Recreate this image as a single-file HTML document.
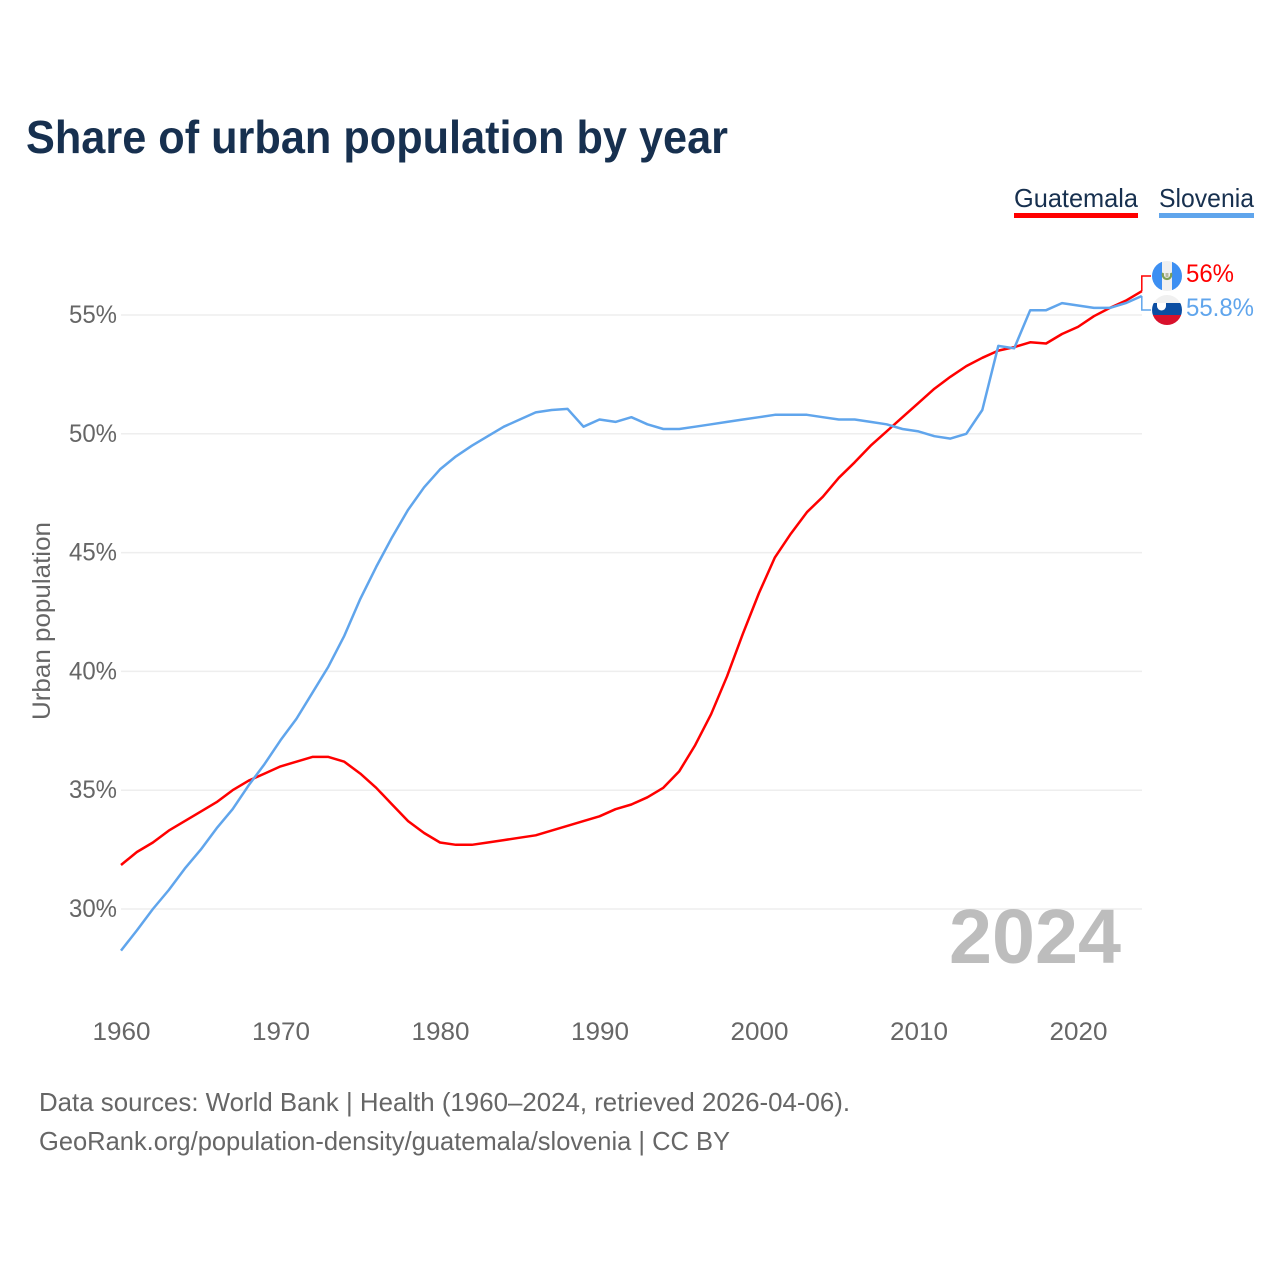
<!DOCTYPE html>
<html lang="en">
<head>
<meta charset="utf-8">
<title>Share of urban population by year</title>
<style>
html,body{margin:0;padding:0;background:#fff;width:1280px;height:1280px;overflow:hidden}
svg{display:block}
text{font-family:"Liberation Sans",sans-serif}
</style>
</head>
<body>
<svg id="chart" xmlns="http://www.w3.org/2000/svg" width="1280" height="1280" viewBox="0 0 1280 1280">
  <rect x="0" y="0" width="1280" height="1280" fill="#ffffff"/>
  <text x="26" y="153" font-size="46" font-weight="700" fill="#17304f" textLength="702" lengthAdjust="spacingAndGlyphs">Share of urban population by year</text>

  <g>
    <text x="1014" y="207" font-size="26" fill="#17304f" textLength="124" lengthAdjust="spacingAndGlyphs">Guatemala</text>
    <rect x="1014" y="213" width="124" height="5" fill="#ff0000"/>
  </g>
  <g>
    <text x="1159" y="207" font-size="26" fill="#17304f" textLength="95" lengthAdjust="spacingAndGlyphs">Slovenia</text>
    <rect x="1159" y="213" width="95" height="5" fill="#60a5ec"/>
  </g>

  <g id="grid"></g>
  <g id="yticks"></g>
  <g id="xticks"></g>
  <text transform="translate(50,621) rotate(-90)" text-anchor="middle" font-size="25" fill="#666666" textLength="198" lengthAdjust="spacingAndGlyphs">Urban population</text>

  <text x="949" y="963" font-size="77" font-weight="700" fill="#bdbdbd" textLength="172" lengthAdjust="spacingAndGlyphs">2024</text>

  <g id="series"></g>

  <defs>
    <clipPath id="clip-gt"><circle cx="1167" cy="276" r="15"/></clipPath>
    <clipPath id="clip-si"><circle cx="1167" cy="310" r="15"/></clipPath>
  </defs>
  <g clip-path="url(#clip-gt)">
    <rect x="1152" y="261" width="30" height="30" fill="#f0f0f0"/>
    <rect x="1152" y="261" width="10" height="30" fill="#3d8ff2"/>
    <rect x="1172" y="261" width="10" height="30" fill="#3d8ff2"/>
    <path d="M1163.2 273a4.2 4.2 0 1 0 7.6 0" fill="none" stroke="#7f9f55" stroke-width="2.2"/>
    <rect x="1165.5" y="273" width="3" height="4" fill="#b8b8a0"/>
  </g>
  <g clip-path="url(#clip-si)">
    <rect x="1152" y="295" width="30" height="8" fill="#f0f0f0"/>
    <rect x="1152" y="303" width="30" height="12" fill="#0b4ea2"/>
    <rect x="1152" y="315" width="30" height="10" fill="#d8112c"/>
    <path d="M1157 303h9v3a4.5 4.5 0 0 1-9 0z" fill="#ffffff"/>
  </g>
  <g id="endlabels"></g>

  <text x="39" y="1111" font-size="26" fill="#666666" textLength="811" lengthAdjust="spacingAndGlyphs">Data sources: World Bank | Health (1960–2024, retrieved 2026-04-06).</text>
  <text x="39" y="1150" font-size="26" fill="#666666" textLength="691" lengthAdjust="spacingAndGlyphs">GeoRank.org/population-density/guatemala/slovenia | CC BY</text>
</svg>
<script>
const startYear = 1960;
const guatemalaValues = [31.85,32.4,32.8,33.3,33.7,34.1,34.5,35.0,35.4,35.7,36.0,36.2,36.4,36.4,36.2,35.7,35.1,34.4,33.7,33.2,32.8,32.7,32.7,32.8,32.9,33.0,33.1,33.3,33.5,33.7,33.9,34.2,34.4,34.7,35.1,35.8,36.9,38.2,39.8,41.6,43.3,44.8,45.8,46.7,47.35,48.15,48.8,49.5,50.1,50.7,51.3,51.9,52.4,52.85,53.2,53.5,53.65,53.85,53.8,54.2,54.5,54.95,55.3,55.6,56.0];
const sloveniaValues = [28.25,29.1,30.0,30.8,31.7,32.5,33.4,34.2,35.2,36.1,37.1,38.0,39.1,40.2,41.5,43.05,44.4,45.65,46.8,47.75,48.5,49.05,49.5,49.9,50.3,50.6,50.9,51.0,51.05,50.3,50.6,50.5,50.7,50.4,50.2,50.2,50.3,50.4,50.5,50.6,50.7,50.8,50.8,50.8,50.7,50.6,50.6,50.5,50.4,50.2,50.1,49.9,49.8,50.0,51.0,53.7,53.6,55.2,55.2,55.5,55.4,55.3,55.3,55.5,55.8];
const yTickValues = [30,35,40,45,50,55];
const xTickValues = [1960,1970,1980,1990,2000,2010,2020];
const guatemalaLabel = "56%";
const sloveniaLabel = "55.8%";

const svgNS = "http://www.w3.org/2000/svg";
function xScale(year){ return 121 + (year - 1960) * 15.95; }
function yScale(value){ return 909 - (value - 30) * 23.76; }

function make(tag, attrs, parent){
  const el = document.createElementNS(svgNS, tag);
  for (const k in attrs) el.setAttribute(k, attrs[k]);
  parent.appendChild(el);
  return el;
}

const gridGroup = document.getElementById('grid');
const yTickGroup = document.getElementById('yticks');
const xTickGroup = document.getElementById('xticks');
const seriesGroup = document.getElementById('series');
const endGroup = document.getElementById('endlabels');

yTickValues.forEach(function(v){
  const line = make('line', {x1:121, x2:1142, y1:yScale(v), y2:yScale(v), stroke:'#eeeeee', 'stroke-width':1.5}, gridGroup);
  
  
  const label = make('text', {x:117, y:yScale(v)+8, 'text-anchor':'end', 'font-size':25, fill:'#666666', textLength:48, lengthAdjust:'spacingAndGlyphs'}, yTickGroup);
  
  
  label.textContent = v + '%';
});

xTickValues.forEach(function(y){
  const label = make('text', {x:xScale(y)+0.5, y:1040, 'text-anchor':'middle', 'font-size':25, fill:'#666666', textLength:58, lengthAdjust:'spacingAndGlyphs'}, xTickGroup);
  
  
  label.textContent = y;
});

function pointsFor(values){
  return values.map(function(v,i){ return xScale(startYear + i).toFixed(1) + ',' + yScale(v).toFixed(1); }).join(' ');
}

const gtLine = make('polyline', {points:pointsFor(guatemalaValues), fill:'none', stroke:'#ff0000', 'stroke-width':2.5, 'stroke-linejoin':'round'}, seriesGroup);


const slLine = make('polyline', {points:pointsFor(sloveniaValues), fill:'none', stroke:'#60a5ec', 'stroke-width':2.5, 'stroke-linejoin':'round'}, seriesGroup);



const lastX = xScale(startYear + guatemalaValues.length - 1);
const gtEndY = yScale(guatemalaValues[guatemalaValues.length - 1]);
const slEndY = yScale(sloveniaValues[sloveniaValues.length - 1]);

const gtConn = make('polyline', {points:lastX+','+gtEndY+' '+lastX+',276 1151,276', fill:'none', stroke:'#ff0000', 'stroke-width':1.5}, endGroup);


const slConn = make('polyline', {points:lastX+','+slEndY+' '+lastX+',310 1151,310', fill:'none', stroke:'#60a5ec', 'stroke-width':1.5}, endGroup);



const gtText = make('text', {x:1186, y:282, 'font-size':25, fill:'#ff0000', textLength:48, lengthAdjust:'spacingAndGlyphs'}, endGroup);


gtText.textContent = guatemalaLabel;
const slText = make('text', {x:1186, y:316, 'font-size':25, fill:'#60a5ec', textLength:68, lengthAdjust:'spacingAndGlyphs'}, endGroup);


slText.textContent = sloveniaLabel;
</script>
</body>
</html>
